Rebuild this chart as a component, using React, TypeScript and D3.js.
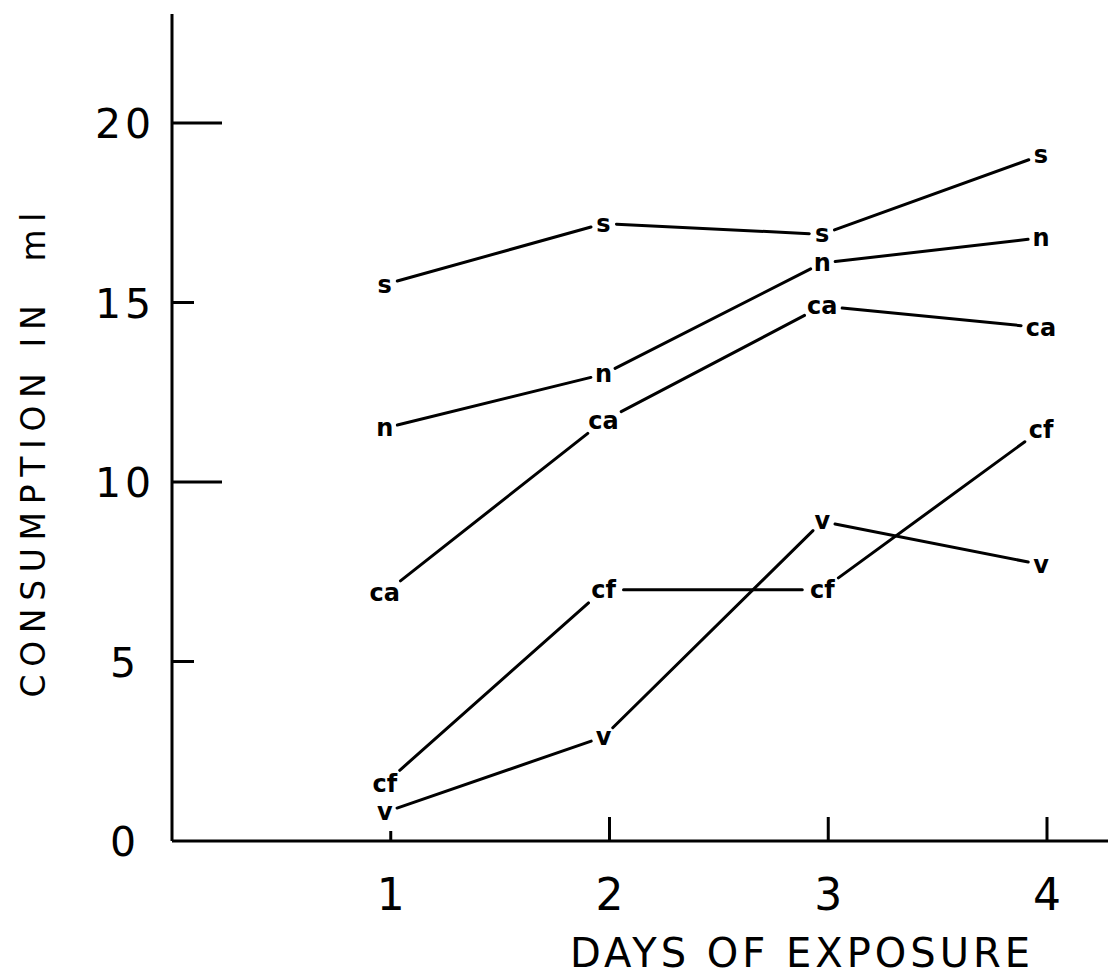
import { useEffect, useRef } from "react";
import * as d3 from "d3";

// values (ml consumed per day)
const days = [1, 2, 3, 4];
const sValues = [15.5, 17.2, 16.9, 19.1];
const nValues = [11.5, 13.0, 16.1, 16.8];
const caValues = [6.9, 11.7, 14.9, 14.3];
const cfValues = [1.6, 7.0, 7.0, 11.45];
const vValues = [0.8, 2.9, 8.9, 7.7];
const yTicks = [0, 5, 10, 15, 20];
const xTicks = ["1", "2", "3", "4"];

const series = [
  { label: "s", values: sValues },
  { label: "n", values: nValues },
  { label: "ca", values: caValues },
  { label: "cf", values: cfValues },
  { label: "v", values: vValues },
];

const width = 1108;
const height = 978;
const font = "'DejaVu Sans', 'Liberation Sans', sans-serif";

function App() {
  const ref = useRef<SVGSVGElement>(null);

  useEffect(() => {
    document.body.style.margin = "0";
    const el = d3.select(ref.current);
    el.selectAll("*").remove();

    const x = d3.scaleLinear().domain([0, 4]).range([172, 1047]);
    const y = d3.scaleLinear().domain([0, 20]).range([841, 123]);
    const x0 = x(0);
    const y0 = y(0);

    // axes
    el.append("line")
      .attr("x1", x0).attr("x2", x0)
      .attr("y1", 14).attr("y2", y0)
      .attr("stroke", "#000").attr("stroke-width", 3);
    el.append("line")
      .attr("x1", x0).attr("x2", width)
      .attr("y1", y0).attr("y2", y0)
      .attr("stroke", "#000").attr("stroke-width", 3);

    // y ticks: long at 10 and 20, short at 5 and 15
    for (const t of yTicks) {
      if (t > 0) {
        el.append("line")
          .attr("x1", x0).attr("x2", x0 + (t % 10 === 0 ? 50 : 22))
          .attr("y1", y(t)).attr("y2", y(t))
          .attr("stroke", "#000").attr("stroke-width", 3);
      }
      el.append("text")
        .attr("x", 125).attr("y", y(t) + 15)
        .attr("text-anchor", "middle")
        .attr("font-family", font).attr("font-size", 41)
        .attr("letter-spacing", 4)
        .text(String(t));
    }

    // x ticks
    days.forEach((d, i) => {
      el.append("line")
        .attr("x1", x(d)).attr("x2", x(d))
        .attr("y1", y0).attr("y2", y0 - (i === 0 ? 10 : 24))
        .attr("stroke", "#000").attr("stroke-width", 3);
      el.append("text")
        .attr("x", x(d)).attr("y", 910)
        .attr("text-anchor", "middle")
        .attr("font-family", font).attr("font-size", 44)
        .text(xTicks[i]);
    });

    // axis titles
    el.append("text")
      .attr("x", 800).attr("y", 967)
      .attr("text-anchor", "middle")
      .attr("font-family", font).attr("font-size", 40)
      .attr("textLength", 460).attr("lengthAdjust", "spacing")
      .text("DAYS OF EXPOSURE");

    el.append("text")
      .attr("transform", "translate(45, 455) rotate(-90)")
      .attr("text-anchor", "middle")
      .attr("font-family", font).attr("font-size", 33)
      .attr("textLength", 485).attr("lengthAdjust", "spacing")
      .style("white-space", "pre")
      .text("CONSUMPTION IN  ml");

    // series: letters at the points, joined by lines that stop short of them
    for (const s of series) {
      const gap = s.label.length > 1 ? 20 : 13;
      const pts = s.values.map((v, i) => [x(days[i]) - 6, y(v)]);
      for (let i = 0; i < pts.length - 1; i++) {
        const [ax, ay] = pts[i];
        const [bx, by] = pts[i + 1];
        const len = Math.hypot(bx - ax, by - ay);
        const ux = (bx - ax) / len;
        const uy = (by - ay) / len;
        el.append("line")
          .attr("x1", ax + ux * gap).attr("y1", ay + uy * gap)
          .attr("x2", bx - ux * gap).attr("y2", by - uy * gap)
          .attr("stroke", "#000").attr("stroke-width", 3)
          .attr("stroke-linecap", "round");
      }
      for (const [px, py] of pts) {
        el.append("text")
          .attr("x", px).attr("y", py)
          .attr("text-anchor", "middle")
          .attr("dominant-baseline", "central")
          .attr("font-family", font).attr("font-size", 24)
          .attr("font-weight", "bold")
          .text(s.label);
      }
    }
  }, []);

  return (
    <svg
      ref={ref}
      width={width}
      height={height}
      style={{ display: "block", background: "#fff" }}
    />
  );
}

export default App;
